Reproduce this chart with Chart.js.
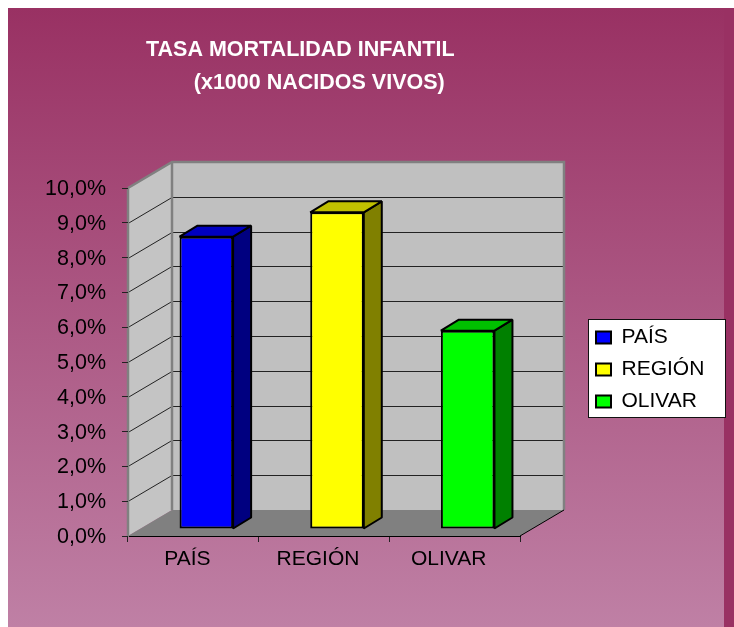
<!DOCTYPE html>
<html>
<head>
<meta charset="utf-8">
<style>
  html, body { margin: 0; padding: 0; background: #fff; }
  canvas { display: block; }
</style>
</head>
<body>
<canvas id="barChart" width="734" height="627"></canvas>
<script src="https://cdn.jsdelivr.net/npm/chart.js@4"></script>
<script>
const categories = ['PAÍS', 'REGIÓN', 'OLIVAR'];
const mortalidad = [8.4, 9.1, 5.7];
const yTicks = ['0,0%', '1,0%', '2,0%', '3,0%', '4,0%', '5,0%', '6,0%', '7,0%', '8,0%', '9,0%', '10,0%'];
const titleLines = ['TASA MORTALIDAD INFANTIL', '        (x1000 NACIDOS VIVOS)'];

const frontColors = ['#0000ff', '#ffff00', '#00ff00'];
const topColors = ['#0000c0', '#c0c000', '#00c000'];
const sideColors = ['#000080', '#808000', '#008000'];

const FONT = 'Liberation Sans, Arial, sans-serif';
const wallDepth = { x: 44, y: -26 };
const barShift = { x: 13, y: -7 };
const barDepth = { x: 18, y: -11 };

function poly(ctx, pts, fill, stroke, lw) {
  ctx.beginPath();
  pts.forEach((p, i) => i ? ctx.lineTo(p[0], p[1]) : ctx.moveTo(p[0], p[1]));
  ctx.closePath();
  if (fill) { ctx.fillStyle = fill; ctx.fill(); }
  if (stroke) { ctx.strokeStyle = stroke; ctx.lineWidth = lw; ctx.lineJoin = 'bevel'; ctx.stroke(); }
}

// fondo, paredes y piso del grafico 3D
const stage = {
  id: 'stage',
  afterLayout(chart) {
    const t = chart.titleBlock, l = chart.legend;
    t.left = 146;
    t.right = 700;
    l.left = 585; l.right = 726; l.top = 316; l.bottom = 440;
  },
  beforeDraw(chart) {
    const ctx = chart.ctx, a = chart.chartArea, y = chart.scales.y;
    const dx = wallDepth.x, dy = wallDepth.y;
    ctx.save();
    ctx.fillStyle = '#fff';
    ctx.fillRect(0, 0, chart.width, chart.height);
    const grad = ctx.createLinearGradient(0, 8, 0, 627);
    grad.addColorStop(0, '#993163');
    grad.addColorStop(1, '#bf80a5');
    ctx.fillStyle = grad;
    ctx.fillRect(8, 8, 716, 619);
    ctx.fillStyle = '#993163';
    ctx.fillRect(724, 8, 10, 619);

    // pared trasera y lateral
    poly(ctx, [[a.left + dx, a.top + dy], [a.right + dx, a.top + dy], [a.right + dx, a.bottom + dy], [a.left + dx, a.bottom + dy]], '#c0c0c0');
    poly(ctx, [[a.left, a.top], [a.left + dx, a.top + dy], [a.left + dx, a.bottom + dy], [a.left, a.bottom]], '#c4c4c4');

    // lineas de la grilla
    ctx.strokeStyle = '#222';
    ctx.lineWidth = 1;
    for (let v = 1; v < yTicks.length - 1; v++) {
      const py = Math.round(y.getPixelForValue(v)) + 0.5;
      ctx.beginPath();
      ctx.moveTo(a.left, py);
      ctx.lineTo(a.left + dx, py + dy);
      ctx.lineTo(a.right + dx, py + dy);
      ctx.stroke();
    }

    // piso
    poly(ctx, [[a.left, a.bottom], [a.left + dx, a.bottom + dy], [a.right + dx, a.bottom + dy], [a.right, a.bottom]], '#808080');
    ctx.strokeStyle = '#808080';
    ctx.lineWidth = 2.5;
    ctx.beginPath();
    ctx.moveTo(a.left, a.top);
    ctx.lineTo(a.left + dx, a.top + dy);
    ctx.lineTo(a.right + dx, a.top + dy);
    ctx.lineTo(a.right + dx, a.bottom + dy);
    ctx.moveTo(a.left + dx, a.top + dy);
    ctx.lineTo(a.left + dx, a.bottom + dy);
    ctx.moveTo(a.left, a.top);
    ctx.lineTo(a.left, a.bottom);
    ctx.stroke();
    ctx.strokeStyle = '#000';
    ctx.lineWidth = 1;
    ctx.beginPath();
    ctx.moveTo(a.right, a.bottom);
    ctx.lineTo(a.right + dx, a.bottom + dy);
    ctx.stroke();

    // caja de la leyenda
    ctx.fillStyle = '#fff';
    ctx.fillRect(588.5, 319.5, 137, 98);
    ctx.strokeStyle = '#111';
    ctx.strokeRect(588.5, 319.5, 137, 98);
    ctx.restore();
  },
  beforeDatasetDraw(chart, args) {
    const ctx = chart.ctx;
    ctx.save();
    ctx.translate(barShift.x, barShift.y);
    args.meta.data.forEach((bar, i) => {
      const p = bar.getProps(['x', 'y', 'base', 'width'], true);
      const l = p.x - p.width / 2, r = p.x + p.width / 2;
      const dx = barDepth.x, dy = barDepth.y;
      poly(ctx, [[r, p.y], [r + dx, p.y + dy], [r + dx, p.base + dy], [r, p.base]], sideColors[i], '#000', 2);
      poly(ctx, [[l, p.y], [l + dx, p.y + dy], [r + dx, p.y + dy], [r, p.y]], topColors[i], '#000', 2);
    });
  },
  afterDatasetDraw(chart) {
    chart.ctx.restore();
  }
};

new Chart(document.getElementById('barChart'), {
  type: 'bar',
  data: {
    labels: categories,
    datasets: [{
      label: 'Tasa',
      data: mortalidad,
      backgroundColor: frontColors,
      borderColor: '#000',
      borderWidth: 2,
      borderSkipped: false,
      barPercentage: 0.41,
      categoryPercentage: 1
    }]
  },
  options: {
    responsive: false,
    animation: false,
    layout: { padding: { left: 0, right: 214, top: 0, bottom: 0 } },
    scales: {
      x: {
        afterFit: s => { s.height = 91; },
        grid: { drawOnChartArea: false, tickLength: 6, tickColor: '#222', tickWidth: 1 },
        border: { color: '#000', width: 1 },
        ticks: { color: '#000', font: { family: FONT, size: 21 }, padding: 5, maxRotation: 0, labelOffset: -6 }
      },
      y: {
        min: 0,
        max: 10,
        afterFit: s => { s.width = 128; },
        grid: { drawOnChartArea: false, tickLength: 6, tickColor: '#222', tickWidth: 1 },
        border: { color: '#808080', width: 1 },
        ticks: {
          stepSize: 1,
          color: '#000',
          padding: 16,
          labelOffset: 1,
          font: { family: FONT, size: 21.5 },
          callback: (v, i) => yTicks[i]
        }
      }
    },
    plugins: {
      tooltip: { enabled: false },
      title: {
        display: true,
        text: titleLines,
        align: 'start',
        color: '#fff',
        font: { family: FONT, size: 21.5, weight: 'bold', lineHeight: 1.535 },
        padding: { top: 34, bottom: 88 }
      },
      legend: {
        display: true,
        position: 'chartArea',
        align: 'start',
        labels: {
          color: '#000',
          font: { family: FONT, size: 21 },
          boxWidth: 15,
          boxHeight: 12,
          padding: 11,
          generateLabels: () => categories.map((c, i) => ({
            text: c,
            fillStyle: frontColors[i],
            strokeStyle: '#000',
            lineWidth: 2,
            index: i
          }))
        }
      }
    }
  },
  plugins: [stage]
});
</script>
</body>
</html>
